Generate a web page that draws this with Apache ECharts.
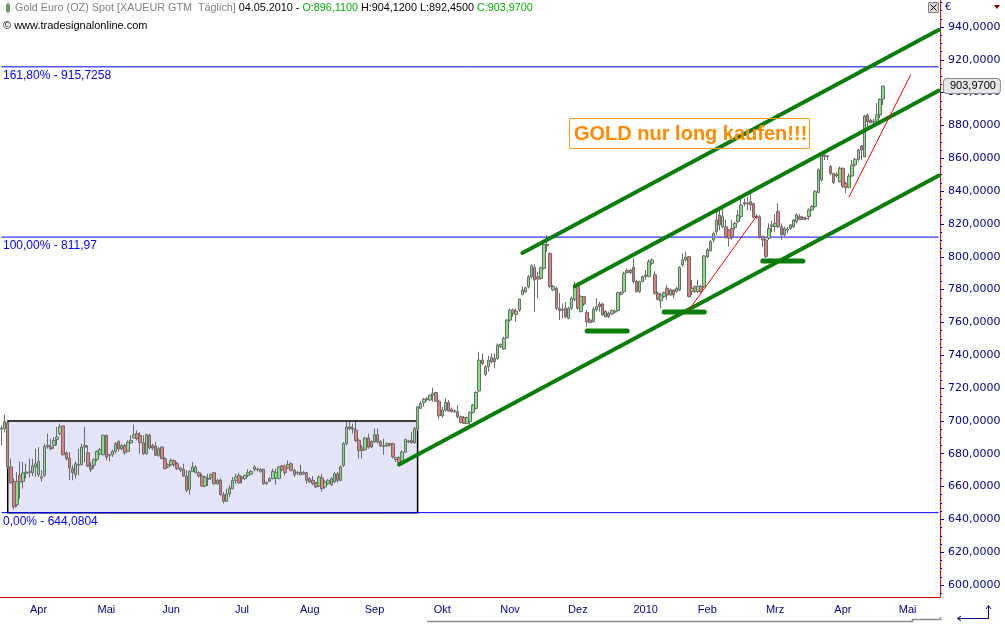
<!DOCTYPE html>
<html>
<head>
<meta charset="utf-8">
<script src="https://cdn.jsdelivr.net/npm/echarts@6/dist/echarts.min.js"></script>
<style>
html, body { margin: 0; padding: 0; background: #fff; }
#main { width: 1005px; height: 626px; }
</style>
</head>
<body>
<div id="main"></div>
<script>
// Gold Euro (OZ) Spot, daily candles: [open, close, low, high]
var startDay = '2009-03-30';
var slotCount = 305;   // trading days on the axis, incl. empty room right of the last candle
var candles = [
  [695.0,695.6,685.1,697.3],[695.2,699.7,692.8,703.8],[699.0,672.0,671.0,700.0],[671.9,662.3,661.7,677.0],[663.1,647.5,646.1,664.8],
  [649.0,663.1,647.5,668.8],[666.8,662.7,652.6,675.3],[663.1,668.2,658.7,675.0],[668.0,668.8,664.8,673.9],[668.4,669.0,665.8,677.0],
  [668.4,672.5,666.4,677.0],[671.9,673.9,665.8,683.0],[667.2,675.3,665.8,684.0],[665.0,666.0,663.0,670.0],[666.8,684.5,665.8,686.1],
  [685.1,684.3,683.0,692.2],[684.0,683.0,682.0,689.1],[685.0,688.1,683.0,690.2],[688.7,690.2,685.1,696.3],[692.2,696.3,691.2,698.3],
  [696.9,679.4,679.0,697.3],[680.6,677.0,675.9,681.4],[677.4,671.3,663.8,681.0],[670.9,668.4,663.8,672.9],[667.2,673.9,664.8,675.3],
  [673.0,673.5,666.8,683.0],[673.3,684.1,672.9,686.1],[684.0,685.0,674.9,696.3],[680.6,672.5,671.9,685.1],[672.5,670.5,668.8,674.9],
  [672.9,676.4,670.9,677.0],[676.4,681.4,675.3,682.0],[680.0,682.4,679.0,683.5],[679.4,691.2,679.0,691.6],[691.2,678.0,676.0,691.6],
  [679.0,679.4,675.3,680.0],[679.4,681.4,678.0,682.4],[681.4,686.1,680.0,687.1],[687.5,683.0,681.4,688.1],[683.0,685.0,682.0,686.1],
  [685.0,680.6,679.4,686.1],[681.4,687.1,681.0,688.1],[686.7,688.1,686.1,691.2],[689.6,691.6,689.2,697.7],[692.2,689.2,688.1,694.2],
  [691.2,686.7,680.0,693.2],[686.7,680.0,679.4,691.2],[680.0,691.6,679.4,692.2],[691.2,683.5,682.6,692.2],[685.0,683.5,682.0,686.1],
  [684.7,679.0,678.6,687.1],[679.0,683.0,678.0,684.0],[684.0,677.0,676.6,684.7],[677.0,670.9,670.5,678.0],[672.0,673.3,671.3,674.0],
  [673.3,675.9,672.5,677.0],[675.9,673.3,672.0,676.4],[673.9,670.9,670.0,675.0],[670.0,671.3,668.8,672.0],[670.5,666.4,665.8,673.9],
  [666.4,657.7,656.7,669.9],[658.3,669.2,655.0,669.9],[669.2,671.9,668.8,674.9],[668.4,671.9,668.0,673.0],[668.4,666.4,665.5,669.2],
  [666.4,660.3,659.7,667.8],[660.3,665.8,659.5,666.5],[664.5,665.0,660.3,667.8],[665.6,667.2,664.0,668.0],[668.4,661.7,661.1,668.8],
  [661.7,663.8,661.0,664.8],[663.8,655.0,654.6,664.8],[655.0,651.0,649.6,656.6],[651.0,655.6,650.6,658.7],[655.6,659.1,653.6,660.7],
  [658.7,663.8,658.3,665.8],[663.8,665.8,661.7,667.8],[666.8,662.3,661.7,668.4],[665.8,664.8,661.7,666.4],[664.8,666.8,664.0,667.2],
  [666.8,668.4,665.8,670.5],[667.6,669.2,667.0,670.0],[670.5,671.9,669.2,672.9],[670.3,670.7,669.0,671.5],[669.2,670.5,668.4,671.3],
  [670.5,661.7,661.1,670.9],[662.3,661.7,661.2,663.0],[663.2,664.8,662.7,665.5],[664.8,669.2,664.4,670.9],[665.2,668.4,661.1,670.9],
  [664.8,671.9,664.4,672.5],[672.5,670.5,669.2,673.3],[672.5,668.4,666.8,673.3],[671.3,673.3,670.9,675.9],[673.9,669.9,669.2,674.9],
  [669.9,667.2,665.8,670.9],[668.2,668.6,667.0,669.5],[668.8,667.2,666.8,673.3],[667.6,668.6,667.0,669.5],[668.4,663.8,661.7,668.8],
  [664.8,662.7,662.3,665.8],[663.8,661.7,660.7,666.4],[662.3,659.7,659.1,662.7],[660.3,665.8,659.7,666.8],[665.2,658.7,656.7,667.8],
  [659.7,662.7,658.7,663.8],[661.7,663.8,661.0,664.5],[661.1,664.8,660.3,665.8],[662.7,667.8,662.3,668.8],[667.8,663.8,662.3,668.8],
  [663.8,671.9,663.2,672.9],[672.9,686.1,671.9,687.1],[686.1,696.3,685.1,699.3],[696.3,695.3,694.2,699.3],[695.3,695.0,692.2,698.3],
  [694.3,688.1,687.1,699.3],[688.1,682.0,677.0,689.1],[683.5,682.0,677.0,685.1],[682.5,689.6,682.0,690.2],[689.6,684.0,683.0,692.2],
  [687.5,684.1,683.5,688.1],[687.1,691.6,686.7,695.3],[691.6,687.1,686.1,695.3],[687.5,684.7,684.1,688.1],[684.8,684.4,679.4,689.1],
  [684.7,686.1,684.0,686.8],[686.1,685.3,684.5,686.7],[686.1,678.0,677.0,686.7],[676.4,677.6,674.9,678.0],[677.6,674.5,672.5,678.5],
  [675.3,681.0,674.9,682.0],[681.0,688.7,680.6,689.1],[687.8,687.2,686.4,688.5],[688.1,686.7,686.1,693.2],[686.7,695.3,686.1,696.3],
  [695.3,708.6,694.0,709.0],[707.6,710.6,707.2,712.0],[711.2,713.3,708.6,714.1],[713.0,713.5,712.0,714.5],[712.7,715.7,712.0,716.0],
  [715.7,716.7,711.6,720.2],[717.3,712.0,711.6,717.7],[712.0,703.1,701.1,712.6],[703.1,706.6,701.9,708.6],[706.6,711.2,705.6,713.7],
  [711.2,706.0,705.6,712.6],[707.2,705.6,705.0,708.0],[706.2,705.6,705.0,707.0],[705.6,702.5,701.5,709.6],[702.5,699.1,698.5,703.3],
  [702.0,698.5,698.0,703.0],[698.5,701.9,698.0,702.5],[699.5,705.2,697.4,705.8],[705.2,709.6,704.5,710.3],[707.6,717.3,707.0,718.0],
  [718.2,737.0,717.7,742.1],[737.0,735.0,733.9,741.1],[728.3,733.0,727.3,734.0],[733.0,737.0,730.0,739.7],[736.0,738.5,735.0,741.1],
  [738.0,736.0,732.0,741.1],[738.0,746.2,737.1,747.2],[745.2,746.6,744.5,747.2],[743.8,750.2,743.2,751.2],[750.6,761.4,750.2,762.0],
  [761.4,767.5,760.4,768.5],[767.5,765.5,763.5,768.5],[764.9,766.9,760.5,768.5],[767.5,774.2,766.5,774.6],[777.0,779.7,776.5,781.7],
  [778.7,781.1,778.0,781.7],[781.7,787.8,780.7,788.8],[787.8,794.5,786.8,795.5],[793.3,785.8,766.5,795.4],[787.8,786.4,774.6,790.9],
  [786.8,793.3,786.0,793.9],[792.9,807.5,792.3,808.0],[807.5,806.7,803.0,813.2],[802.0,781.8,781.1,802.6],[779.8,781.8,779.0,782.8],
  [780.8,768.6,767.6,781.8],[768.6,767.2,761.5,777.8],[767.4,767.8,762.5,771.7],[768.6,763.5,762.5,772.6],[762.5,768.6,761.9,769.6],
  [768.6,774.7,767.6,775.7],[774.1,782.8,772.6,784.9],[781.8,768.6,767.6,782.2],[766.6,775.7,766.0,776.5],[775.7,771.2,770.0,776.0],
  [766.0,760.5,757.4,767.6],[761.5,759.9,759.5,762.5],[760.5,768.0,759.9,769.6],[767.6,769.6,766.6,774.7],[771.2,769.6,766.6,772.6],
  [771.2,764.5,764.0,772.0],[763.5,766.6,763.0,767.5],[765.6,763.5,762.5,766.6],[765.2,767.2,764.5,768.0],[766.3,766.8,765.5,767.8],
  [767.2,778.1,766.6,778.8],[777.1,778.1,776.5,779.0],[778.8,789.9,777.8,790.9],[791.6,790.3,790.0,793.0],[790.3,791.9,789.5,792.5],
  [793.6,784.9,783.8,799.1],[784.9,778.8,778.1,786.0],[778.8,784.9,778.0,785.5],[784.9,787.9,784.5,788.5],[787.9,788.9,786.0,792.0],
  [787.9,797.0,787.5,798.5],[796.0,798.0,795.0,799.1],[789.0,777.8,776.8,791.0],[777.8,774.1,773.3,778.8],[773.1,776.7,768.6,777.8],
  [775.7,778.1,775.0,778.8],[780.8,776.7,773.7,782.8],[776.7,779.8,776.0,780.5],[779.8,776.7,774.6,780.0],[778.8,780.8,778.0,781.8],
  [779.8,793.6,779.0,794.2],[795.0,798.1,794.0,802.1],[798.1,799.7,797.0,803.0],[800.0,775.7,775.3,800.5],[778.8,780.8,776.7,785.9],
  [781.8,778.8,778.0,782.5],[778.8,782.2,777.8,786.0],[781.8,778.8,778.0,783.0],[781.8,800.5,781.1,801.1],[800.0,804.2,799.1,805.2],
  [803.7,809.2,803.1,810.2],[810.2,814.3,808.6,815.3],[815.3,822.4,813.3,829.0],[825.4,819.4,816.3,829.5],[818.3,824.4,817.3,829.5],
  [818.3,812.3,811.2,822.4],[816.3,811.2,806.1,817.0],[817.3,812.2,810.2,822.4],[817.9,820.4,816.5,821.4],[821.4,825.4,820.4,828.5],
  [824.4,831.5,823.4,835.6],[833.0,832.1,830.6,835.6],[832.8,832.2,828.5,836.5],[833.6,831.5,828.0,838.7],[832.5,824.0,823.4,833.0],
  [824.0,824.8,823.0,826.0],[824.4,812.3,811.0,825.4],[812.3,810.2,806.0,813.0],[810.2,800.1,799.1,811.0],[811.2,817.3,810.2,820.4],
  [818.3,819.4,815.0,822.0],[818.4,820.4,815.0,826.0],[827.5,818.3,817.3,832.6],[818.3,813.3,810.2,820.4],[813.3,817.3,812.3,818.3],
  [816.3,816.8,814.3,818.3],[817.3,819.4,816.5,820.0],[818.3,822.4,817.5,823.0],[821.4,825.5,820.4,826.5],[824.5,822.8,822.4,826.1],
  [823.8,822.8,822.5,824.7],[823.5,823.1,822.5,824.5],[824.5,828.5,822.4,829.5],[828.5,830.6,828.0,831.5],[830.6,839.7,829.6,840.7],
  [839.1,852.9,838.7,853.9],[846.8,862.0,845.8,863.0],[862.0,861.0,858.9,863.0],[861.5,861.0,859.0,862.0],[854.9,850.8,849.8,855.9],
  [850.8,845.2,844.4,851.2],[849.5,850.3,848.0,851.5],[845.8,853.9,845.2,854.9],[853.9,842.7,842.0,854.3],[844.7,842.1,838.7,845.7],
  [842.3,849.2,841.7,850.8],[849.2,855.9,848.8,858.9],[855.9,859.4,855.0,860.4],[859.4,865.0,858.0,866.0],[867.5,865.1,859.0,868.1],
  [861.0,885.8,860.6,886.4],[886.4,882.3,877.2,887.4],[883.3,881.7,881.3,884.3],[881.9,882.6,879.5,884.0],[882.3,886.4,881.3,893.5],
  [886.4,895.9,884.5,896.5],[896.11,903.97,892.45,904.12]
];

var monthNames = ['Jan', 'Feb', 'Mrz', 'Apr', 'Mai', 'Jun', 'Jul', 'Aug', 'Sep', 'Okt', 'Nov', 'Dez'];
var yTickValues = [600, 620, 640, 660, 680, 700, 720, 740, 760, 780, 800, 820, 840, 860, 880, 900, 920, 940];

// Fibonacci levels
var fibValues = [915.7258, 811.97, 644.0804];
var fibLabels = ['161,80% - 915,7258', '100,00% - 811,97', '0,00% - 644,0804'];

// sideways box Apr-Sep 2009
var boxStart = '2009-04-01';
var boxEnd = '2009-10-05';
var boxTop = 700;
var boxBottom = 644.0804;

// green trend channel
var channelTop = [['2009-11-20', 802.3], ['2010-05-28', 938.1]];
var channelMid = [['2009-12-15', 782.0], ['2010-05-28', 901.2]];
var channelLow = [['2009-09-25', 673.4], ['2010-05-28', 849.4]];
var supportBars = [
  [['2009-12-21', 754.7], ['2010-01-07', 754.7]],
  [['2010-01-25', 766.3], ['2010-02-11', 766.3]],
  [['2010-03-10', 797.4], ['2010-03-29', 797.4]]
];
var redLines = [
  [['2010-02-04', 767.5], ['2010-03-08', 824.8]],
  [['2010-04-19', 836.5], ['2010-05-17', 910.9]]
];

function weekdays(start, n) {
  var out = [];
  var d = new Date(start + 'T00:00:00Z');
  while (out.length < n) {
    var w = d.getUTCDay();
    if (w !== 0 && w !== 6) out.push(d.toISOString().slice(0, 10));
    d.setUTCDate(d.getUTCDate() + 1);
  }
  return out;
}
var dates = weekdays(startDay, slotCount);

// ticks on the first day of a month, labels in its middle
var tickAt = {};
var labelAt = {};
var months = {};
dates.forEach(function (d, i) {
  var m = d.slice(0, 7);
  if (!months[m]) months[m] = [i, i];
  months[m][1] = i;
  if (i > 0 && m !== dates[i - 1].slice(0, 7)) tickAt[i] = true;
});
Object.keys(months).forEach(function (m) {
  var r = months[m];
  if (r[1] - r[0] >= 9) labelAt[Math.floor((r[0] + r[1]) / 2)] = true;
});

function fmt(v, n) {
  return v.toFixed(n === undefined ? 4 : n).replace('.', ',');
}

var last = candles[candles.length - 1];
var lastDay = dates[candles.length - 1].split('-').reverse().join('.');

var yMin = 592.69;
var yMax = 956.44;
var gridBox = { left: 0, right: 65, top: 0, bottom: 29 };
var clear = 'rgba(0,0,0,0)';

function lineSeries(pts, color, width, z) {
  return {
    type: 'line', data: pts, symbol: 'none', silent: true, z: z,
    lineStyle: { color: color, width: width, cap: 'round' }
  };
}

var series = [
  {
    type: 'line', data: [], z: 1, silent: true,
    markArea: {
      silent: true,
      itemStyle: { color: '#e4e4f8', borderColor: '#000000', borderWidth: 1.5 },
      data: [[{ xAxis: boxStart, yAxis: boxTop }, { xAxis: boxEnd, yAxis: boxBottom }]]
    }
  },
  {
    type: 'candlestick', data: candles, z: 3, barWidth: 3,
    itemStyle: {
      color: '#7ce87c', color0: '#e87c7c',
      borderColor: '#6a6a6a', borderColor0: '#6a6a6a', borderWidth: 1
    },
    markLine: {
      silent: true, symbol: ['none', 'none'],
      lineStyle: { color: clear, width: 0 },
      label: {
        position: 'insideStartBottom', color: '#0000ff', distance: [3, 3],
        fontFamily: 'Liberation Sans', fontSize: 12
      },
      data: fibValues.map(function (v, i) {
        return { yAxis: v, label: { formatter: fibLabels[i] } };
      }).concat([{
        yAxis: last[1],
        label: {
          position: 'end', distance: 4, formatter: fmt(last[1]),
          color: '#000', fontFamily: 'Liberation Sans', fontSize: 11,
          backgroundColor: '#e6e6e6', borderColor: '#8a8a8a', borderWidth: 1,
          borderRadius: 3, padding: [2, 4, 1, 6]
        }
      }])
    }
  },
  lineSeries(channelTop, '#0a7d0a', 4, 5),
  lineSeries(channelMid, '#0a7d0a', 4, 5),
  lineSeries(channelLow, '#0a7d0a', 4, 5)
];
// Fibonacci level lines across the whole plot
fibValues.forEach(function (v) {
  var s = lineSeries([[dates[0], v], [dates[slotCount - 1], v]], '#0000ff', 1, 2);
  s.lineStyle.cap = 'butt';
  series.push(s);
});
supportBars.forEach(function (b) { series.push(lineSeries(b, '#0a7d0a', 5, 6)); });
redLines.forEach(function (b) { series.push(lineSeries(b, '#ff0000', 1, 6)); });

var minorTicks = [];
for (var t = 595; t <= 955; t += 5) minorTicks.push(t);

var headerFont = '10.8px "Liberation Sans"';

var chart = echarts.init(document.getElementById('main'));
chart.setOption({
  animation: false,
  backgroundColor: '#ffffff',
  grid: [gridBox, gridBox],
  xAxis: [{
    type: 'category', data: dates, boundaryGap: true, gridIndex: 0,
    axisLine: { onZero: false, lineStyle: { color: '#ff0000', width: 1 } },
    axisTick: {
      interval: function (i) { return !!tickAt[i]; },
      length: 6, lineStyle: { color: '#333333' }
    },
    axisLabel: {
      interval: function (i) { return !!labelAt[i]; },
      formatter: function (v) {
        var m = +v.slice(5, 7);
        return m === 1 ? v.slice(0, 4) : monthNames[m - 1];
      },
      color: '#000080', fontFamily: 'Liberation Sans', fontSize: 11, margin: 7
    },
    splitLine: { show: false }
  }, {
    type: 'category', data: dates, gridIndex: 1, show: false
  }],
  yAxis: [{
    type: 'value', position: 'right', min: yMin, max: yMax, gridIndex: 0,
    axisLine: { show: true, lineStyle: { color: '#ff0000', width: 1 } },
    axisTick: { show: true, customValues: yTickValues, length: 4, lineStyle: { color: '#000080' } },
    axisLabel: {
      customValues: yTickValues, formatter: function (v) { return fmt(v); },
      color: '#000080', fontFamily: 'DejaVu Sans', fontSize: 11, margin: 8
    },
    splitLine: { show: false }
  }, {
    type: 'value', position: 'right', min: yMin, max: yMax, gridIndex: 1,
    axisLine: { show: false },
    axisTick: { show: true, customValues: minorTicks, length: 2, lineStyle: { color: '#000080' } },
    axisLabel: { show: false },
    splitLine: { show: false }
  }],
  series: series,
  graphic: [
    { type: 'rect', shape: { x: 6.5, y: 4.5, width: 3, height: 7 }, style: { fill: '#22cc22', stroke: '#888888', lineWidth: 1 }, z: 100 },
    { type: 'line', shape: { x1: 8, y1: 2, x2: 8, y2: 4.5 }, style: { stroke: '#888888', lineWidth: 1 }, z: 100 },
    { type: 'line', shape: { x1: 8, y1: 11.5, x2: 8, y2: 14 }, style: { stroke: '#888888', lineWidth: 1 }, z: 100 },
    {
      type: 'text', x: 15, y: 3, z: 100,
      style: {
        text: '{g|Gold Euro (OZ) Spot [XAUEUR GTM  T\u00e4glich]} {k|' + lastDay + ' -} {n|O:' + fmt(last[0]) +
          '} {k|H:' + fmt(last[3]) + ' L:' + fmt(last[2]) + '} {n|C:' + fmt(last[1]) + '}',
        font: headerFont,
        rich: {
          g: { fill: '#808080', font: headerFont },
          k: { fill: '#000000', font: headerFont },
          n: { fill: '#00b000', font: headerFont }
        }
      }
    },
    { type: 'text', x: 3, y: 20, z: 100, style: { text: '\u00a9 www.tradesignalonline.com', fill: '#000000', font: '11px "Liberation Sans"' } },
    // annotation
    { type: 'rect', shape: { x: 569.5, y: 118.5, width: 240, height: 30 }, style: { fill: 'none', stroke: '#ff9a1a', lineWidth: 1 }, z: 100 },
    { type: 'text', x: 574, y: 134, z: 101, style: { text: 'GOLD nur long kaufen!!!', fill: '#ff8c00', font: 'bold 20px "Liberation Sans"', verticalAlign: 'middle' } },
    // window controls
    { type: 'rect', shape: { x: 928.5, y: 2.5, width: 10, height: 10 }, style: { fill: '#d8d8d8', stroke: '#808080', lineWidth: 1 }, z: 100 },
    { type: 'line', shape: { x1: 930.5, y1: 4.5, x2: 936.5, y2: 10.5 }, style: { stroke: '#000000', lineWidth: 1 }, z: 101 },
    { type: 'line', shape: { x1: 936.5, y1: 4.5, x2: 930.5, y2: 10.5 }, style: { stroke: '#000000', lineWidth: 1 }, z: 101 },
    { type: 'text', x: 945, y: 2, z: 100, style: { text: '\u20ac', fill: '#000080', font: '10px "DejaVu Sans"' } },
    { type: 'polygon', shape: { points: [[994, 5], [1000, 5], [997, 9]] }, style: { fill: '#800000' }, z: 100 },
    // scroll bar
    { type: 'polyline', shape: { points: [[427, 621.5], [912.5, 621.5], [912.5, 619.5], [940.5, 619.5], [940.5, 617]] }, style: { stroke: '#8c8c8c', lineWidth: 1.5, fill: null }, z: 100 },
    // return arrow
    { type: 'polyline', shape: { points: [[958, 618.5], [988.5, 618.5], [988.5, 606]] }, style: { stroke: '#000080', lineWidth: 1, fill: null }, z: 100 },
    { type: 'polyline', shape: { points: [[961, 616], [957.5, 618.5], [961, 621]] }, style: { stroke: '#000080', lineWidth: 1, fill: null }, z: 100 },
    { type: 'polyline', shape: { points: [[986, 609], [988.5, 605.5], [991, 609]] }, style: { stroke: '#000080', lineWidth: 1, fill: null }, z: 100 }
  ]
});
</script>
</body>
</html>
